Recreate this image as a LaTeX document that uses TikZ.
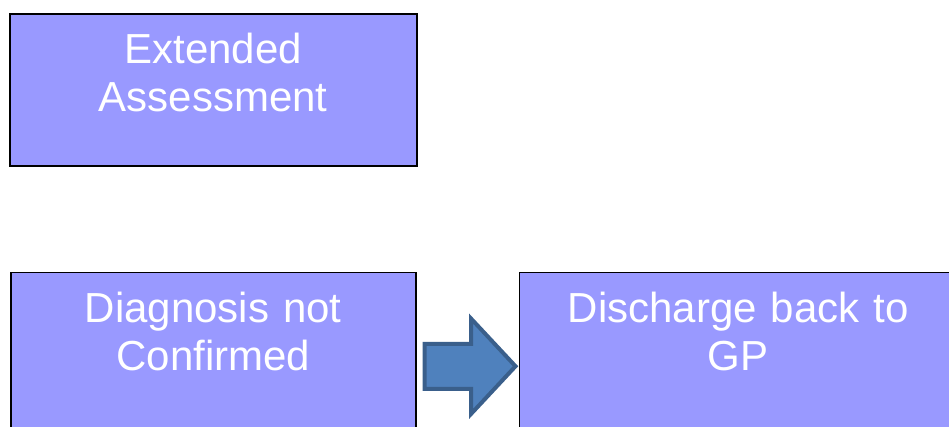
\documentclass[tikz,border=0pt]{standalone}
\usepackage{fontspec}
\setmainfont{Liberation Sans}
\usetikzlibrary{shapes,arrows,positioning}
\definecolor{boxblue}{HTML}{9999FF}
\definecolor{arrowfill}{HTML}{4F81BD}
\definecolor{arrowline}{HTML}{3A5F8B}
\tikzstyle{block} = [rectangle, draw=black, line width=1.5pt, fill=boxblue,
    text=white, align=center, inner xsep=0pt, inner ysep=20pt, text height=30pt,
    font=\fontsize{42}{48}\selectfont]
\tikzstyle{bigarrow} = [single arrow, draw=arrowline, fill=arrowfill, line width=4pt,
    minimum height=91pt, minimum width=91pt, single arrow head extend=25pt,
    single arrow tip angle=94, inner xsep=0pt, inner ysep=20.5pt]

\begin{document}
\begin{tikzpicture}[x=1pt, y=1pt]
    \useasboundingbox (0,0) rectangle (949,-426);
    % Place nodes
    \node [block, text width=407pt, text depth=82pt, anchor=north west] at (9,-13) (ext) {Extended\\ Assessment};
    \node [block, text width=405pt, text depth=100pt, below=105pt of ext] (diag) {Diagnosis not\\ Confirmed};
    \node [block, text width=438pt, text depth=100pt, right=102pt of diag] (gp) {Discharge back to\\ GP};
    \node [bigarrow, right=6pt of diag, yshift=-9pt] (arr) {};
\end{tikzpicture}
\end{document}
